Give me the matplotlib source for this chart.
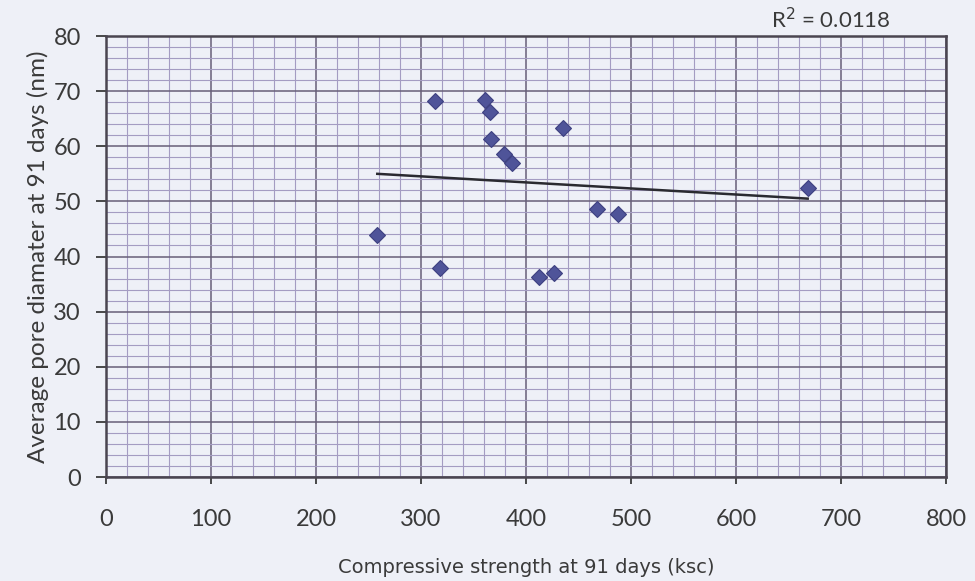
import matplotlib
matplotlib.use("Agg")
import matplotlib.pyplot as plt
from matplotlib.ticker import MultipleLocator

# valores
strength = [313, 361, 365.7, 366.4, 379, 386.4, 435.5, 258.4, 467.3, 487.3, 318, 412.4, 426.7, 668.3]
pore_diam = [68.2, 68.4, 66.3, 61.3, 58.6, 56.9, 63.4, 43.9, 48.6, 47.8, 37.9, 36.3, 37.0, 52.4]

# linea de tendencia lineal (extremos leidos)
trend_x = [258.4, 668.3]
trend_y = [55.0, 50.5]
r2_label = "R$^2$ = 0.0118"

x_ticks = [0, 100, 200, 300, 400, 500, 600, 700, 800]
y_ticks = [0, 10, 20, 30, 40, 50, 60, 70, 80]

bg = '#eef0f7'
txt = '#3a3a3a'

plt.rcParams['font.family'] = ['Lato', 'DejaVu Sans']

fig = plt.figure(figsize=(9.75, 5.81), dpi=100, facecolor=bg)
ax = fig.add_axes([0.1087, 0.179, 0.8615, 0.759])
ax.set_facecolor(bg)

ax.set_xlim(0, 800)
ax.set_ylim(0, 80)
ax.set_xticks(x_ticks)
ax.set_yticks(y_ticks)
ax.xaxis.set_minor_locator(MultipleLocator(20))
ax.yaxis.set_minor_locator(MultipleLocator(2))

# cuadricula estilo papel milimetrado
ax.grid(True, which='minor', color='#a49cc2', linewidth=0.8)
ax.grid(True, which='major', color='#675f78', linewidth=1.1)
ax.set_axisbelow(True)

for s in ax.spines.values():
    s.set_color('#4a4550')
    s.set_linewidth(1.8)

ax.tick_params(axis='x', which='major', direction='out', length=5, width=1.3,
               pad=18, labelsize=17, colors=txt)
ax.tick_params(axis='y', which='major', direction='out', length=7, width=1.3,
               pad=11, labelsize=17, colors=txt)
ax.tick_params(which='minor', length=0)

ax.plot(trend_x, trend_y, color='#2a2a30', linewidth=1.8, zorder=3)
ax.plot(strength, pore_diam, linestyle='none', marker='D', markersize=8.5,
        markerfacecolor='#4f5499', markeredgecolor='#3d4080', markeredgewidth=0.8, zorder=4)

ax.set_xlabel('Compressive strength at 91 days (ksc)', fontsize=14, color=txt,
              family='DejaVu Sans', labelpad=20)
ax.set_ylabel('Average pore diamater at 91 days (nm)', fontsize=17.5, color=txt, labelpad=3)

fig.text(0.791, 0.952, r2_label, fontsize=16, color=txt, va='baseline', ha='left')

fig.savefig('out.png', dpi=100, facecolor=bg)
